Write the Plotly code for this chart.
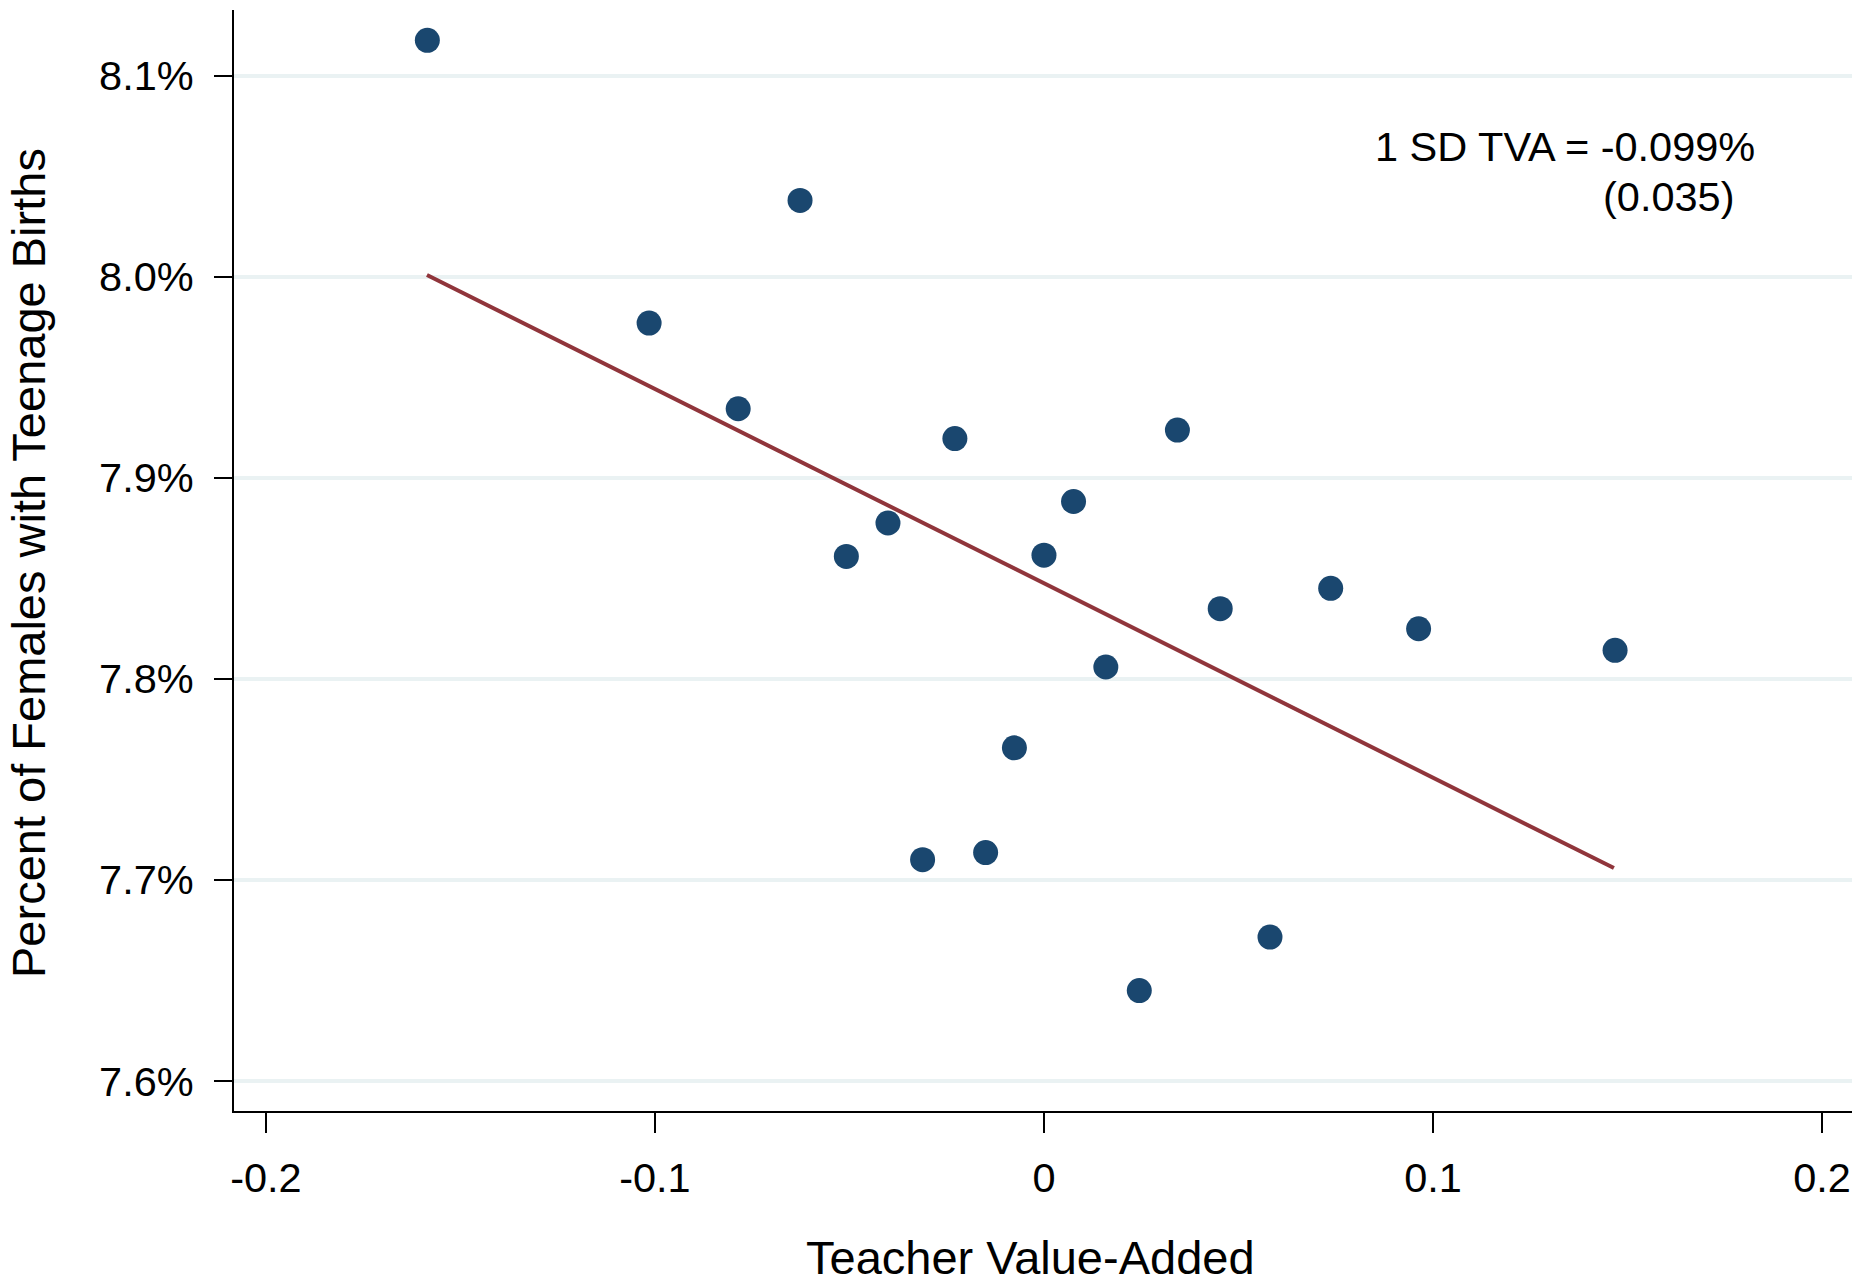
import plotly.graph_objects as go

# Binned scatter: teacher value-added vs % females with teenage births
tva = [-0.1585, -0.0627, -0.1015, -0.0786, -0.0229, 0.0343, 0.0076, -0.0401, -0.0508, 0.0000,
       0.0737, 0.0453, 0.0963, 0.1468, 0.0159, -0.0076, -0.0312, -0.0150, 0.0581, 0.0245]
teen_births = [8.1175, 8.0379, 7.9769, 7.9343, 7.9195, 7.9237, 7.8882, 7.8775, 7.8609, 7.8615,
               7.8450, 7.8349, 7.8249, 7.8142, 7.8059, 7.7657, 7.7101, 7.7136, 7.6716, 7.6450]

# Fitted line endpoints
fit_x = [-0.1586, 0.1465]
fit_y = [8.0008, 7.7059]

x_tickvals = [-0.2, -0.1, 0, 0.1, 0.2]
x_ticktext = ["-0.2", "-0.1", "0", "0.1", "0.2"]
y_tickvals = [7.6, 7.7, 7.8, 7.9, 8.0, 8.1]
y_ticktext = ["7.6%", "7.7%", "7.8%", "7.9%", "8.0%", "8.1%"]

annot_line1 = "1 SD TVA = -0.099%"
annot_line2 = "(0.035)"
x_title = "Teacher Value-Added"
y_title = "Percent of Females with Teenage Births"

FONT = "Liberation Sans, Arial, sans-serif"

fig = go.Figure()
fig.add_trace(go.Scatter(
    x=tva, y=teen_births, mode="markers",
    marker=dict(color="#1a476f", size=25, line=dict(width=0)),
    showlegend=False,
))
fig.add_trace(go.Scatter(
    x=fit_x, y=fit_y, mode="lines",
    line=dict(color="#90353b", width=4),
    showlegend=False,
))

fig.update_layout(
    width=1864, height=1283,
    margin=dict(l=234, r=12, t=10, b=172),
    paper_bgcolor="white", plot_bgcolor="white",
    font=dict(family=FONT, color="black", size=41.5),
    xaxis=dict(
        range=[-0.2082, 0.2077],
        tickvals=x_tickvals, ticktext=x_ticktext,
        ticks="outside", ticklen=20, tickwidth=2, tickcolor="black",
        showline=True, linewidth=2, linecolor="black",
        showgrid=False, zeroline=False,
        tickfont=dict(size=41.5, family=FONT, color="black"),
        ticklabelstandoff=9,
    ),
    yaxis=dict(
        range=[7.5851, 8.1326],
        tickvals=y_tickvals, ticktext=y_ticktext,
        ticks="outside", ticklen=18, tickwidth=2, tickcolor="black",
        showline=True, linewidth=2, linecolor="black",
        showgrid=True, gridcolor="#eaf2f3", gridwidth=4,
        zeroline=False,
        tickfont=dict(size=41.5, family=FONT, color="black"),
        ticklabelstandoff=12,
    ),
    annotations=[
        dict(text=annot_line1, xref="paper", yref="paper",
             x=(1757 - 234) / 1618, y=(1111 - 147) / 1101,
             xanchor="right", yanchor="middle", showarrow=False,
             font=dict(size=41.5, family=FONT, color="black")),
        dict(text=annot_line2, xref="paper", yref="paper",
             x=(1737 - 234) / 1618, y=(1111 - 197) / 1101,
             xanchor="right", yanchor="middle", showarrow=False,
             font=dict(size=41.5, family=FONT, color="black")),
        dict(text=x_title, xref="paper", yref="paper",
             x=(1030 - 234) / 1618, y=0, yshift=-146,
             xanchor="center", yanchor="middle", showarrow=False,
             font=dict(size=47, family=FONT, color="black")),
        dict(text=y_title, xref="paper", yref="paper", textangle=-90,
             x=0, xshift=-206, y=(1111 - 563) / 1101,
             xanchor="center", yanchor="middle", showarrow=False,
             font=dict(size=47, family=FONT, color="black")),
    ],
)

fig.write_html(
    "out.html",
    config={"displayModeBar": False},
    post_script="document.body.style.margin='0px';document.body.style.padding='0px';",
)
